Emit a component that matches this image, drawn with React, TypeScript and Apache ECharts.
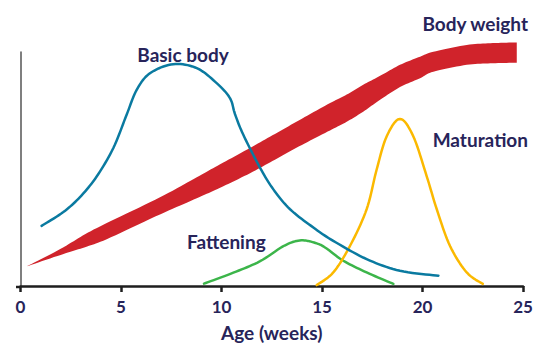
import React, { useEffect, useRef } from "react";
import * as echarts from "echarts";

const xTicks = [0, 5, 10, 15, 20, 25];

const basicX = [1.05, 2.13, 2.96, 3.79, 4.62, 5.28, 5.78, 6.44, 7.6, 8.77, 9.76, 10.42, 10.67, 11.08, 11.92, 12.58, 13.41, 14.57, 15.56, 17.22, 18.88, 20.79];
const basicY = [25.7, 31.6, 38.0, 46.8, 59.0, 73.2, 83.8, 90.9, 94.8, 93.1, 86.7, 80.3, 73.5, 64.7, 50.5, 41.3, 32.8, 25.0, 19.3, 11.5, 6.5, 4.4];

const bandX = [0.31, 2, 3.21, 4.29, 6.94, 8.77, 9.93, 11.42, 12.66, 14, 15.4, 16.23, 17.05, 17.89, 18.88, 19.88, 20.54, 22.2, 23.5, 24.69];
const bandUpper = [8.4, 15.9, 22.1, 26.9, 37.9, 46.5, 52.0, 59.0, 65.0, 71.5, 78.2, 81.8, 86.0, 89.8, 94.5, 98.0, 100.1, 103.0, 103.8, 104.1];
const bandLower = [8.4, 13.3, 16.6, 20.0, 30.6, 37.5, 42.0, 48.2, 54.0, 60.3, 66.5, 70.2, 74.5, 79.6, 85.0, 88.8, 91.6, 94.5, 95.2, 95.4];

const fatX = [9.13, 10.59, 11.92, 13.14, 13.97, 14.74, 15.23, 16.06, 17.22, 18.55];
const fatY = [1, 5.7, 10.6, 17.3, 19.5, 18.2, 16.0, 10.8, 5.8, 0.9];

const matX = [14.74, 15.56, 16.39, 17.22, 17.72, 18.22, 18.88, 19.54, 20.21, 20.71, 21.37, 22.2, 23.0];
const matY = [0.4, 5.8, 17.1, 32.8, 49.8, 64.0, 71.4, 64.0, 46.9, 32.8, 17.1, 5.8, 0.9];

const labels = [
  { text: "Basic body", x: 183, y: 54, align: "center" },
  { text: "Body weight", x: 528, y: 23, align: "right" },
  { text: "Maturation", x: 528, y: 139, align: "right" },
  { text: "Fattening", x: 187, y: 241, align: "left" },
];

const NAVY = "#27245a";

function catmull(pts: number[][], segs = 10): number[][] {
  const out: number[][] = [];
  const n = pts.length;
  for (let i = 0; i < n - 1; i++) {
    const p0 = pts[i - 1] || pts[i];
    const p1 = pts[i];
    const p2 = pts[i + 1];
    const p3 = pts[i + 2] || pts[i + 1];
    for (let s = 0; s < segs; s++) {
      const t = s / segs;
      const t2 = t * t;
      const t3 = t2 * t;
      const f = (a: number, b: number, c: number, d: number) =>
        0.5 * (2 * b + (-a + c) * t + (2 * a - 5 * b + 4 * c - d) * t2 + (-a + 3 * b - 3 * c + d) * t3);
      out.push([f(p0[0], p1[0], p2[0], p3[0]), f(p0[1], p1[1], p2[1], p3[1])]);
    }
  }
  out.push(pts[n - 1]);
  return out;
}

function curveSeries(xs: number[], ys: number[], color: string, z: number) {
  return {
    type: "custom",
    z,
    clip: false,
    data: xs.map((x, i) => [x, ys[i]]),
    renderItem: (params: any, api: any) => {
      if (params.dataIndex !== 0) return null;
      const pts = xs.map((x, i) => api.coord([x, ys[i]]));
      return {
        type: "polyline",
        shape: { points: catmull(pts) },
        style: { stroke: color, lineWidth: 2.5, fill: "none", lineJoin: "round", lineCap: "round" },
      };
    },
  };
}

export default function App() {
  const ref = useRef<HTMLDivElement>(null);
  useEffect(() => {
    if (!ref.current) return;
    const chart = echarts.init(ref.current, undefined, { renderer: "svg" });
    const font = "bold 19px Lato";
    chart.setOption({
      animation: false,
      backgroundColor: "#ffffff",
      grid: { left: 20.5, right: 15, top: 52, bottom: 60 },
      xAxis: {
        type: "value",
        min: 0,
        max: 25,
        interval: 5,
        splitLine: { show: false },
        axisLine: { show: true, lineStyle: { color: "#1e1e1e", width: 2.5 } },
        axisTick: { show: true, length: 6, lineStyle: { color: "#1e1e1e", width: 2.5 } },
        axisLabel: {
          color: NAVY,
          fontFamily: "Lato",
          fontWeight: "bold",
          fontSize: 17,
          margin: 12,
          formatter: (v: number) => (xTicks.includes(v) ? String(v) : ""),
        },
        name: "Age (weeks)",
        nameLocation: "middle",
        nameGap: 37,
        nameTextStyle: { color: NAVY, fontFamily: "Lato", fontWeight: "bold", fontSize: 19 },
      },
      yAxis: {
        type: "value",
        min: 0,
        max: 100,
        splitLine: { show: false },
        axisLine: { show: true, lineStyle: { color: "#555555", width: 1.5 } },
        axisTick: { show: false },
        axisLabel: { show: false },
      },
      series: [
        {
          type: "custom",
          z: 1,
          clip: false,
          data: [[bandX[0], bandUpper[0]]],
          renderItem: (_params: any, api: any) => {
            const up = bandX.map((x, i) => api.coord([x, bandUpper[i]]));
            const lo = bandX.map((x, i) => api.coord([x, bandLower[i]]));
            const points = catmull(up).concat(catmull(lo).reverse());
            return {
              type: "polygon",
              shape: { points },
              style: { fill: "#d0232b", stroke: "none" },
            };
          },
        },
        curveSeries(fatX, fatY, "#3cb54a", 2),
        curveSeries(matX, matY, "#fbb900", 2),
        curveSeries(basicX, basicY, "#0a7aa0", 3),
      ],
      graphic: [
        {
          type: "line",
          shape: { x1: 16, y1: 287, x2: 21, y2: 287 },
          style: { stroke: "#1e1e1e", lineWidth: 2.5 },
        },
        ...labels.map((l) => ({
          type: "text",
          x: l.x,
          y: l.y,
          style: {
            text: l.text,
            font,
            fill: NAVY,
            align: l.align,
            verticalAlign: "middle",
          },
        })),
      ],
    });
    return () => chart.dispose();
  }, []);
  return <div ref={ref} style={{ width: 538, height: 347, position: "absolute", left: 0, top: 0 }} />;
}
